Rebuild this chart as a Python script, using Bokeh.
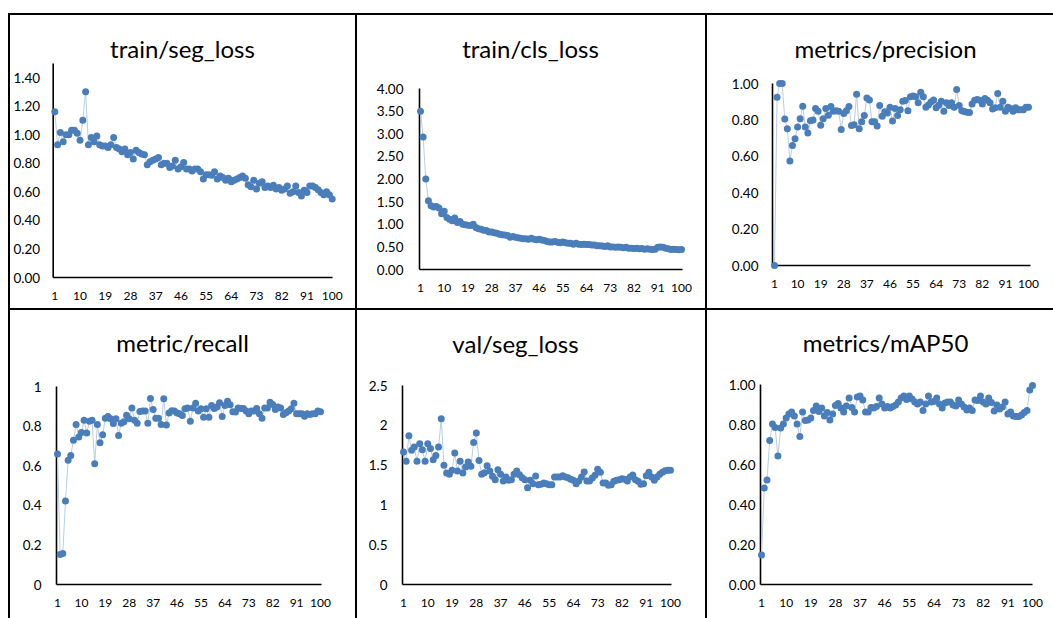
from bokeh.plotting import figure
from bokeh.layouts import column, row
from bokeh.models import Range1d, FixedTicker, Label, Spacer
from bokeh.embed import file_html
from bokeh.resources import INLINE

epochs = list(range(1, 101))
x_ticks = [1, 10, 19, 28, 37, 46, 55, 64, 73, 82, 91, 100]

train_seg_loss = [
    1.16, 0.93, 1.015, 0.95, 1.00, 1.00, 1.03, 1.03, 1.01, 0.96,
    1.10, 1.30, 0.93, 0.98, 0.95, 0.99, 0.93, 0.92, 0.92, 0.91,
    0.93, 0.98, 0.91, 0.90, 0.88, 0.90, 0.86, 0.875, 0.83, 0.89,
    0.875, 0.865, 0.86, 0.79, 0.81, 0.82, 0.83, 0.84, 0.79, 0.80,
    0.80, 0.77, 0.78, 0.82, 0.76, 0.775, 0.805, 0.76, 0.76, 0.745,
    0.76, 0.76, 0.74, 0.69, 0.72, 0.72, 0.715, 0.74, 0.69, 0.71,
    0.70, 0.68, 0.695, 0.67, 0.68, 0.69, 0.70, 0.71, 0.695, 0.65,
    0.635, 0.68, 0.62, 0.66, 0.67, 0.63, 0.64, 0.63, 0.645, 0.62,
    0.63, 0.61, 0.62, 0.64, 0.59, 0.60, 0.64, 0.595, 0.57, 0.61,
    0.595, 0.64, 0.64, 0.63, 0.615, 0.595, 0.58, 0.60, 0.58, 0.55,
]

train_cls_loss = [
    3.50, 2.93, 2.00, 1.52, 1.41, 1.38, 1.39, 1.36, 1.23, 1.29,
    1.15, 1.11, 1.08, 1.14, 1.04, 1.06, 1.00, 0.99, 0.98, 0.97,
    1.00, 0.93, 0.90, 0.89, 0.87, 0.86, 0.83, 0.83, 0.81, 0.80,
    0.78, 0.77, 0.76, 0.75, 0.71, 0.73, 0.71, 0.70, 0.69, 0.68,
    0.68, 0.67, 0.69, 0.67, 0.66, 0.67, 0.65, 0.64, 0.62, 0.61,
    0.61, 0.62, 0.60, 0.59, 0.61, 0.59, 0.58, 0.58, 0.56, 0.58,
    0.56, 0.555, 0.56, 0.55, 0.55, 0.54, 0.54, 0.525, 0.525, 0.52,
    0.51, 0.525, 0.50, 0.50, 0.49, 0.495, 0.49, 0.48, 0.49, 0.47,
    0.47, 0.465, 0.47, 0.46, 0.465, 0.45, 0.46, 0.45, 0.44, 0.45,
    0.49, 0.50, 0.49, 0.47, 0.46, 0.44, 0.45, 0.44, 0.435, 0.44,
]

precision = [
    0.00, 0.925, 1.00, 1.00, 0.805, 0.752, 0.574, 0.66, 0.697, 0.761,
    0.807, 0.875, 0.761, 0.728, 0.796, 0.80, 0.862, 0.848, 0.771, 0.807,
    0.862, 0.826, 0.873, 0.848, 0.85, 0.848, 0.747, 0.835, 0.85, 0.873,
    0.769, 0.773, 0.941, 0.752, 0.79, 0.824, 0.921, 0.91, 0.79, 0.79,
    0.767, 0.879, 0.82, 0.845, 0.838, 0.87, 0.794, 0.862, 0.824, 0.856,
    0.903, 0.906, 0.85, 0.927, 0.932, 0.927, 0.894, 0.952, 0.927, 0.87,
    0.882, 0.898, 0.91, 0.867, 0.88, 0.903, 0.848, 0.894, 0.879, 0.894,
    0.87, 0.967, 0.879, 0.85, 0.846, 0.842, 0.84, 0.888, 0.908, 0.912,
    0.908, 0.888, 0.917, 0.908, 0.894, 0.86, 0.867, 0.945, 0.87, 0.903,
    0.848, 0.87, 0.862, 0.848, 0.867, 0.856, 0.856, 0.856, 0.87, 0.87,
]

recall = [
    0.659, 0.151, 0.156, 0.422, 0.627, 0.652, 0.728, 0.808, 0.745, 0.768,
    0.829, 0.765, 0.824, 0.829, 0.61, 0.808, 0.716, 0.756, 0.84, 0.849,
    0.837, 0.813, 0.837, 0.753, 0.815, 0.822, 0.855, 0.837, 0.892, 0.829,
    0.815, 0.874, 0.876, 0.876, 0.815, 0.939, 0.884, 0.84, 0.84, 0.808,
    0.938, 0.805, 0.866, 0.877, 0.876, 0.866, 0.862, 0.854, 0.887, 0.892,
    0.825, 0.892, 0.916, 0.876, 0.887, 0.845, 0.887, 0.845, 0.904, 0.889,
    0.896, 0.918, 0.849, 0.904, 0.926, 0.908, 0.872, 0.871, 0.892, 0.889,
    0.889, 0.876, 0.862, 0.876, 0.876, 0.889, 0.862, 0.84, 0.892, 0.891,
    0.921, 0.909, 0.884, 0.896, 0.891, 0.859, 0.867, 0.876, 0.887, 0.916,
    0.862, 0.862, 0.862, 0.85, 0.862, 0.859, 0.862, 0.862, 0.876, 0.872,
]

val_seg_loss = [
    1.664, 1.547, 1.869, 1.685, 1.727, 1.547, 1.768, 1.693, 1.547, 1.768,
    1.71, 1.568, 1.622, 1.727, 2.082, 1.497, 1.40, 1.384, 1.434, 1.651,
    1.426, 1.547, 1.40, 1.476, 1.538, 1.484, 1.785, 1.902, 1.559, 1.384,
    1.405, 1.492, 1.426, 1.359, 1.317, 1.442, 1.384, 1.30, 1.35, 1.309,
    1.317, 1.384, 1.426, 1.38, 1.342, 1.317, 1.217, 1.309, 1.267, 1.363,
    1.254, 1.258, 1.275, 1.267, 1.254, 1.254, 1.35, 1.35, 1.35, 1.367,
    1.35, 1.342, 1.321, 1.309, 1.267, 1.30, 1.35, 1.413, 1.30, 1.30,
    1.338, 1.371, 1.447, 1.409, 1.275, 1.275, 1.246, 1.254, 1.296, 1.309,
    1.317, 1.329, 1.321, 1.30, 1.35, 1.375, 1.317, 1.296, 1.258, 1.267,
    1.367, 1.409, 1.35, 1.309, 1.35, 1.384, 1.409, 1.43, 1.434, 1.434,
]

map50 = [
    0.148, 0.482, 0.522, 0.72, 0.802, 0.785, 0.642, 0.782, 0.802, 0.832,
    0.852, 0.862, 0.843, 0.802, 0.74, 0.862, 0.82, 0.823, 0.832, 0.87,
    0.892, 0.865, 0.882, 0.842, 0.86, 0.822, 0.853, 0.895, 0.905, 0.882,
    0.862, 0.893, 0.932, 0.885, 0.862, 0.937, 0.943, 0.922, 0.862, 0.862,
    0.885, 0.882, 0.89, 0.932, 0.902, 0.882, 0.89, 0.882, 0.89, 0.898,
    0.912, 0.932, 0.943, 0.925, 0.943, 0.928, 0.912, 0.903, 0.912, 0.87,
    0.902, 0.942, 0.912, 0.915, 0.932, 0.903, 0.882, 0.908, 0.912, 0.912,
    0.898, 0.893, 0.922, 0.903, 0.888, 0.872, 0.882, 0.87, 0.922, 0.92,
    0.943, 0.912, 0.902, 0.932, 0.91, 0.868, 0.898, 0.878, 0.887, 0.912,
    0.852, 0.862, 0.843, 0.84, 0.84, 0.848, 0.86, 0.87, 0.973, 0.995,
]

ticks_loss = [0.0, 0.2, 0.4, 0.6, 0.8, 1.0, 1.2, 1.4]
labels_loss = ["0.00", "0.20", "0.40", "0.60", "0.80", "1.00", "1.20", "1.40"]
ticks_cls = [0.0, 0.5, 1.0, 1.5, 2.0, 2.5, 3.0, 3.5, 4.0]
labels_cls = ["0.00", "0.50", "1.00", "1.50", "2.00", "2.50", "3.00", "3.50", "4.00"]
ticks_unit = [0.0, 0.2, 0.4, 0.6, 0.8, 1.0]
labels_unit_2dec = ["0.00", "0.20", "0.40", "0.60", "0.80", "1.00"]
labels_unit_short = ["0", "0.2", "0.4", "0.6", "0.8", "1"]
ticks_val = [0.0, 0.5, 1.0, 1.5, 2.0, 2.5]
labels_val = ["0", "0.5", "1", "1.5", "2", "2.5"]

# ---------------- layout / style (page pixels) ----------------
FONT = "Lato"
MARK = "#4a7ebb"
LINE = "#b9cde6"
BORDER = "2px solid #000"
BW = 2  # css border width (canvas sits inside it)

# columns: (page x0, width); rows: (page y0, height)
COLS = [(8, 347), (355, 350), (705, 348)]
ROWS = [(13, 295), (308, 310)]
INSET = 2
TITLE_DY = -6


def lin(v0, p0, v1, p1):
    k = (v1 - v0) / (p1 - p0)
    return lambda px: v0 + (px - p0) * k


def panel(title, values, yt, yl, col, rw, xmap, xaxis_px, ymap, ytop_px,
          title_px, ylab_stand):
    x0, w = COLS[col]
    y0, h = ROWS[rw]
    cx, cy = x0 + BW, y0 + BW
    fl, fr = cx + INSET, cx + w - INSET - BW
    ft, fb = cy + INSET, cy + h - INSET - BW
    fx = lin(1, xmap[0], 100, xmap[1])
    fy = lin(ymap[0], ymap[1], ymap[2], ymap[3])
    p = figure(width=w, height=h, output_backend="svg", toolbar_location=None,
               x_range=Range1d(fx(fl), fx(fr)), y_range=Range1d(fy(fb), fy(ft)),
               min_border_left=fl - cx, min_border_right=cx + w - fr,
               min_border_top=ft - cy, min_border_bottom=cy + h - fb,
               background_fill_color=None, border_fill_color=None,
               outline_line_color=None)
    p.styles = {"border-top": BORDER, "border-left": BORDER}
    p.grid.visible = False
    xa, xb = fx(xaxis_px[0]), fx(xaxis_px[1])
    for ax in (p.xaxis, p.yaxis):
        ax.axis_line_color = None
        ax.major_tick_line_color = None
        ax.minor_tick_line_color = None
        ax.major_tick_out = 0
        ax.major_tick_in = 0
        ax.major_label_text_font = FONT
        ax.major_label_text_color = "#000000"
    p.xaxis.fixed_location = 0
    p.xaxis.ticker = FixedTicker(ticks=x_ticks)
    p.xaxis.major_label_text_font_size = "12px"
    p.xaxis.major_label_standoff = 14
    p.yaxis.fixed_location = xa
    p.yaxis.ticker = FixedTicker(ticks=yt)
    p.yaxis.major_label_overrides = {t: s for t, s in zip(yt, yl)}
    p.yaxis.major_label_text_font_size = "13.5px"
    p.yaxis.major_label_standoff = ylab_stand
    # axis lines
    p.segment(x0=[xa], y0=[0], x1=[xb], y1=[0], line_color="#000000", line_width=1.6)
    p.segment(x0=[xa], y0=[0], x1=[xa], y1=[fy(ytop_px)], line_color="#000000", line_width=1.6)
    # series
    p.line(epochs, values, line_color=LINE, line_width=1)
    p.scatter(epochs, values, size=7, fill_color=MARK, line_color=None)
    p.add_layout(Label(x=title_px[0] - fl, y=fb - (title_px[1] + TITLE_DY),
                       x_units="screen", y_units="screen",
                       text=title, text_align="center", text_baseline="alphabetic",
                       text_font=FONT, text_font_size="24px", text_color="#000000"))
    return p


p1 = panel("train/seg_loss", train_seg_loss, ticks_loss, labels_loss, 0, 0,
           (54.3, 331.7), (52.7, 332), (0, 277, 1.4, 77), 63, (182, 54), 13)
p2 = panel("train/cls_loss", train_cls_loss, ticks_cls, labels_cls, 1, 0,
           (420, 681), (419, 682), (0, 269, 4.0, 88), 88, (530, 54), 16)
p3 = panel("metrics/precision", precision, ticks_unit, labels_unit_2dec, 2, 0,
           (774, 1028), (772, 1030), (0, 265, 1.0, 83), 83, (885, 54), 14)
p4 = panel("metric/recall", recall, ticks_unit, labels_unit_short, 0, 1,
           (57, 320), (56, 321), (0, 584, 1.0, 386), 386, (182, 348), 15)
p5 = panel("val/seg_loss", val_seg_loss, ticks_val, labels_val, 1, 1,
           (403, 670), (402, 671), (0, 584, 2.5, 385), 385, (515, 349), 15)
p6 = panel("metrics/mAP50", map50, ticks_unit, labels_unit_2dec, 2, 1,
           (761, 1032), (760, 1032), (0, 584, 1.0, 384), 384, (885, 348), 5)

layout = column(Spacer(width=1053, height=13),
                row(Spacer(width=8, height=295), p1, p2, p3),
                row(Spacer(width=8, height=310), p4, p5, p6))

open("out.html", "w").write(file_html(layout, INLINE))
